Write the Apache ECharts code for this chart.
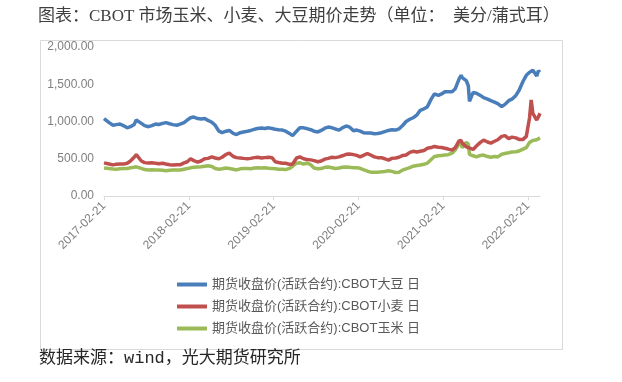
<!DOCTYPE html>
<html>
<head>
<meta charset="utf-8">
<script src="https://cdn.jsdelivr.net/npm/echarts@6/dist/echarts.min.js"></script>
<style>
html,body{margin:0;padding:0;background:#fff;}
#c{width:622px;height:382px;}
</style>
</head>
<body>
<div id="c"></div>
<script>
const titleText = '图表：CBOT 市场玉米、小麦、大豆期价走势（单位：  美分/蒲式耳）';
const sourceText = '数据来源：wind，光大期货研究所';
const seriesNames = ['期货收盘价(活跃合约):CBOT大豆 日','期货收盘价(活跃合约):CBOT小麦 日','期货收盘价(活跃合约):CBOT玉米 日'];
const tickLabels = ['2017-02-21','2018-02-21','2019-02-21','2020-02-21','2021-02-21','2022-02-21'];
const yTicks = [0,500,1000,1500,2000];

const dates = [
 "2017-02-21","2017-03-01","2017-03-15","2017-04-01","2017-04-15","2017-05-01","2017-05-15","2017-06-01","2017-06-15","2017-07-01","2017-07-10","2017-07-15","2017-08-01","2017-08-15","2017-09-01","2017-09-15","2017-10-01","2017-10-15","2017-11-01","2017-11-15","2017-12-01","2017-12-15",
 "2018-01-01","2018-01-15","2018-02-01","2018-02-15","2018-03-01","2018-03-15","2018-04-01","2018-04-15","2018-05-01","2018-05-15","2018-06-01","2018-06-15","2018-07-01","2018-07-15","2018-08-01","2018-08-15","2018-09-01","2018-09-15","2018-10-01","2018-10-15","2018-11-01","2018-11-15","2018-12-01","2018-12-15",
 "2019-01-01","2019-01-15","2019-02-01","2019-02-15","2019-03-01","2019-03-15","2019-04-01","2019-04-15","2019-05-01","2019-05-15","2019-06-01","2019-06-15","2019-07-01","2019-07-15","2019-08-01","2019-08-15","2019-09-01","2019-09-15","2019-10-01","2019-10-15","2019-11-01","2019-11-15","2019-12-01","2019-12-15",
 "2020-01-01","2020-01-15","2020-02-01","2020-02-15","2020-03-01","2020-03-15","2020-04-01","2020-04-15","2020-05-01","2020-05-15","2020-06-01","2020-06-15","2020-07-01","2020-07-15","2020-08-01","2020-08-15","2020-09-01","2020-09-15","2020-10-01","2020-10-15","2020-11-01","2020-11-15","2020-12-01","2020-12-15",
 "2021-01-01","2021-01-15","2021-02-01","2021-02-15","2021-03-01","2021-03-15","2021-04-01","2021-04-15","2021-05-01","2021-05-10","2021-05-15","2021-06-01","2021-06-10","2021-06-15","2021-07-01","2021-07-15","2021-08-01","2021-08-15","2021-09-01","2021-09-15","2021-10-01","2021-10-15","2021-11-01","2021-11-15","2021-12-01","2021-12-15",
 "2022-01-01","2022-01-15","2022-02-01","2022-02-15","2022-03-01","2022-03-08","2022-03-15","2022-04-01","2022-04-08","2022-04-15"
];

const soybean = [
 1040,1020,985,950,958,966,945,915,930,960,1020,1005,975,945,930,945,966,960,975,985,970,958,
 950,965,985,1020,1050,1060,1040,1033,1040,1015,990,950,870,850,870,880,840,825,850,860,870,880,895,905,
 912,905,915,905,895,890,885,870,840,810,870,915,915,905,890,870,860,880,910,925,915,900,885,915,
 940,925,875,885,870,850,845,845,835,840,850,865,880,890,885,900,950,1000,1030,1050,1090,1150,1170,1194,
 1300,1370,1350,1370,1400,1400,1400,1440,1570,1620,1590,1550,1480,1270,1390,1380,1350,1320,1300,1280,1260,1240,1200,1230,1280,1300,
 1350,1420,1540,1620,1660,1680,1690,1610,1680,1660
];

const wheat = [
 445,440,430,418,425,430,428,440,470,520,555,530,470,448,443,445,440,432,440,430,420,415,
 420,418,445,460,500,475,455,470,500,505,525,510,500,520,560,575,530,515,510,505,500,505,515,520,
 510,515,520,515,460,450,440,440,425,430,510,525,500,490,485,475,460,470,495,505,520,515,525,540,
 560,565,555,545,525,545,570,550,525,515,515,500,480,505,510,520,545,550,585,600,590,600,610,640,
 650,665,655,650,640,630,615,650,740,745,710,660,650,640,625,670,720,750,725,710,735,755,800,810,770,790,
 780,760,760,800,1050,1290,1110,1020,1060,1110
];

const corn = [
 375,370,368,362,360,365,368,370,378,385,392,388,370,355,350,352,350,348,345,340,345,348,
 350,348,360,368,378,385,390,392,400,405,395,370,360,365,375,370,360,350,365,370,370,365,375,378,
 375,378,372,370,365,360,358,355,370,400,440,445,430,440,420,375,365,368,385,390,380,370,375,385,
 390,385,380,378,372,355,335,320,318,320,325,330,340,330,315,320,350,365,380,400,410,415,425,440,
 490,530,540,545,550,555,575,620,700,690,650,720,700,560,540,525,545,550,530,520,530,525,560,570,580,590,
 595,605,630,650,720,740,745,755,770,780
];

const DAY = 86400000;
const base = Date.UTC(2017,1,21);
function toDays(s){const p=s.split('-').map(Number);return (Date.UTC(p[0],p[1]-1,p[2])-base)/DAY;}
const xDays = dates.map(toDays);
const yearLen = 365.25;
const endDays = toDays(dates[dates.length-1]);

function pairs(vals){return vals.map((v,i)=>[xDays[i],v]);}
function fmtNum(v){
  const s = v.toFixed(2);
  const [a,b] = s.split('.');
  return a.replace(/\B(?=(\d{3})+(?!\d))/g, ',') + '.' + b;
}

const colors = ['#4A7EBB','#C0504D','#9BBB59'];
const chart = echarts.init(document.getElementById('c'), null, {renderer:'canvas'});
const latin = "'Liberation Sans','Noto Sans CJK SC',sans-serif";
chart.setOption({
  animation:false,
  backgroundColor:'#fff',
  color:colors,
  grid:{left:104,right:82,top:47,bottom:186,containLabel:false},
  xAxis:{
    type:'value',
    min:0,
    max:endDays,
    interval:yearLen,
    axisLine:{show:true,lineStyle:{color:'#D9D9D9',width:1}},
    axisTick:{show:true,length:4,lineStyle:{color:'#D9D9D9'}},
    splitLine:{show:false},
    axisLabel:{
      rotate:45,
      margin:8,
      color:'#7F7F7F',
      fontSize:12,
      fontFamily:latin,
      showMaxLabel:false,
      formatter:function(v){
        const k = Math.round(v/yearLen);
        return tickLabels[k] !== undefined ? tickLabels[k] : '';
      }
    }
  },
  yAxis:{
    type:'value',
    min:yTicks[0],
    max:yTicks[yTicks.length-1],
    interval:yTicks[1]-yTicks[0],
    axisLine:{show:false},
    axisTick:{show:false},
    splitLine:{show:false},
    axisLabel:{margin:10,color:'#7F7F7F',fontSize:12,fontFamily:latin,formatter:fmtNum}
  },
  legend:{
    orient:'vertical',
    left:172,
    top:273,
    padding:5,
    itemWidth:30,
    itemHeight:4,
    itemGap:9,
    icon:'rect',
    textStyle:{color:'#595959',fontSize:13,fontFamily:latin},
    data:seriesNames
  },
  series:[
    {name:seriesNames[0],type:'line',data:pairs(soybean),showSymbol:false,symbol:'none',lineStyle:{width:3.5,color:colors[0]},z:3},
    {name:seriesNames[1],type:'line',data:pairs(wheat),showSymbol:false,symbol:'none',lineStyle:{width:3.5,color:colors[1]},z:2},
    {name:seriesNames[2],type:'line',data:pairs(corn),showSymbol:false,symbol:'none',lineStyle:{width:3.5,color:colors[2]},z:1}
  ],
  graphic:[
    {type:'rect',left:38,top:38,shape:{width:522,height:309},style:{fill:'none',stroke:'#D9D9D9',lineWidth:1},silent:true,z:-1},
    {type:'text',left:38,top:8,style:{text:titleText,fill:'#3F3F3F',font:"17px 'Liberation Serif','Noto Sans CJK SC',serif"}},
    {type:'text',left:39,top:350,style:{text:sourceText,fill:'#262626',font:"17px 'Liberation Mono','Noto Sans CJK SC',monospace"}}
  ]
});
</script>
</body>
</html>
